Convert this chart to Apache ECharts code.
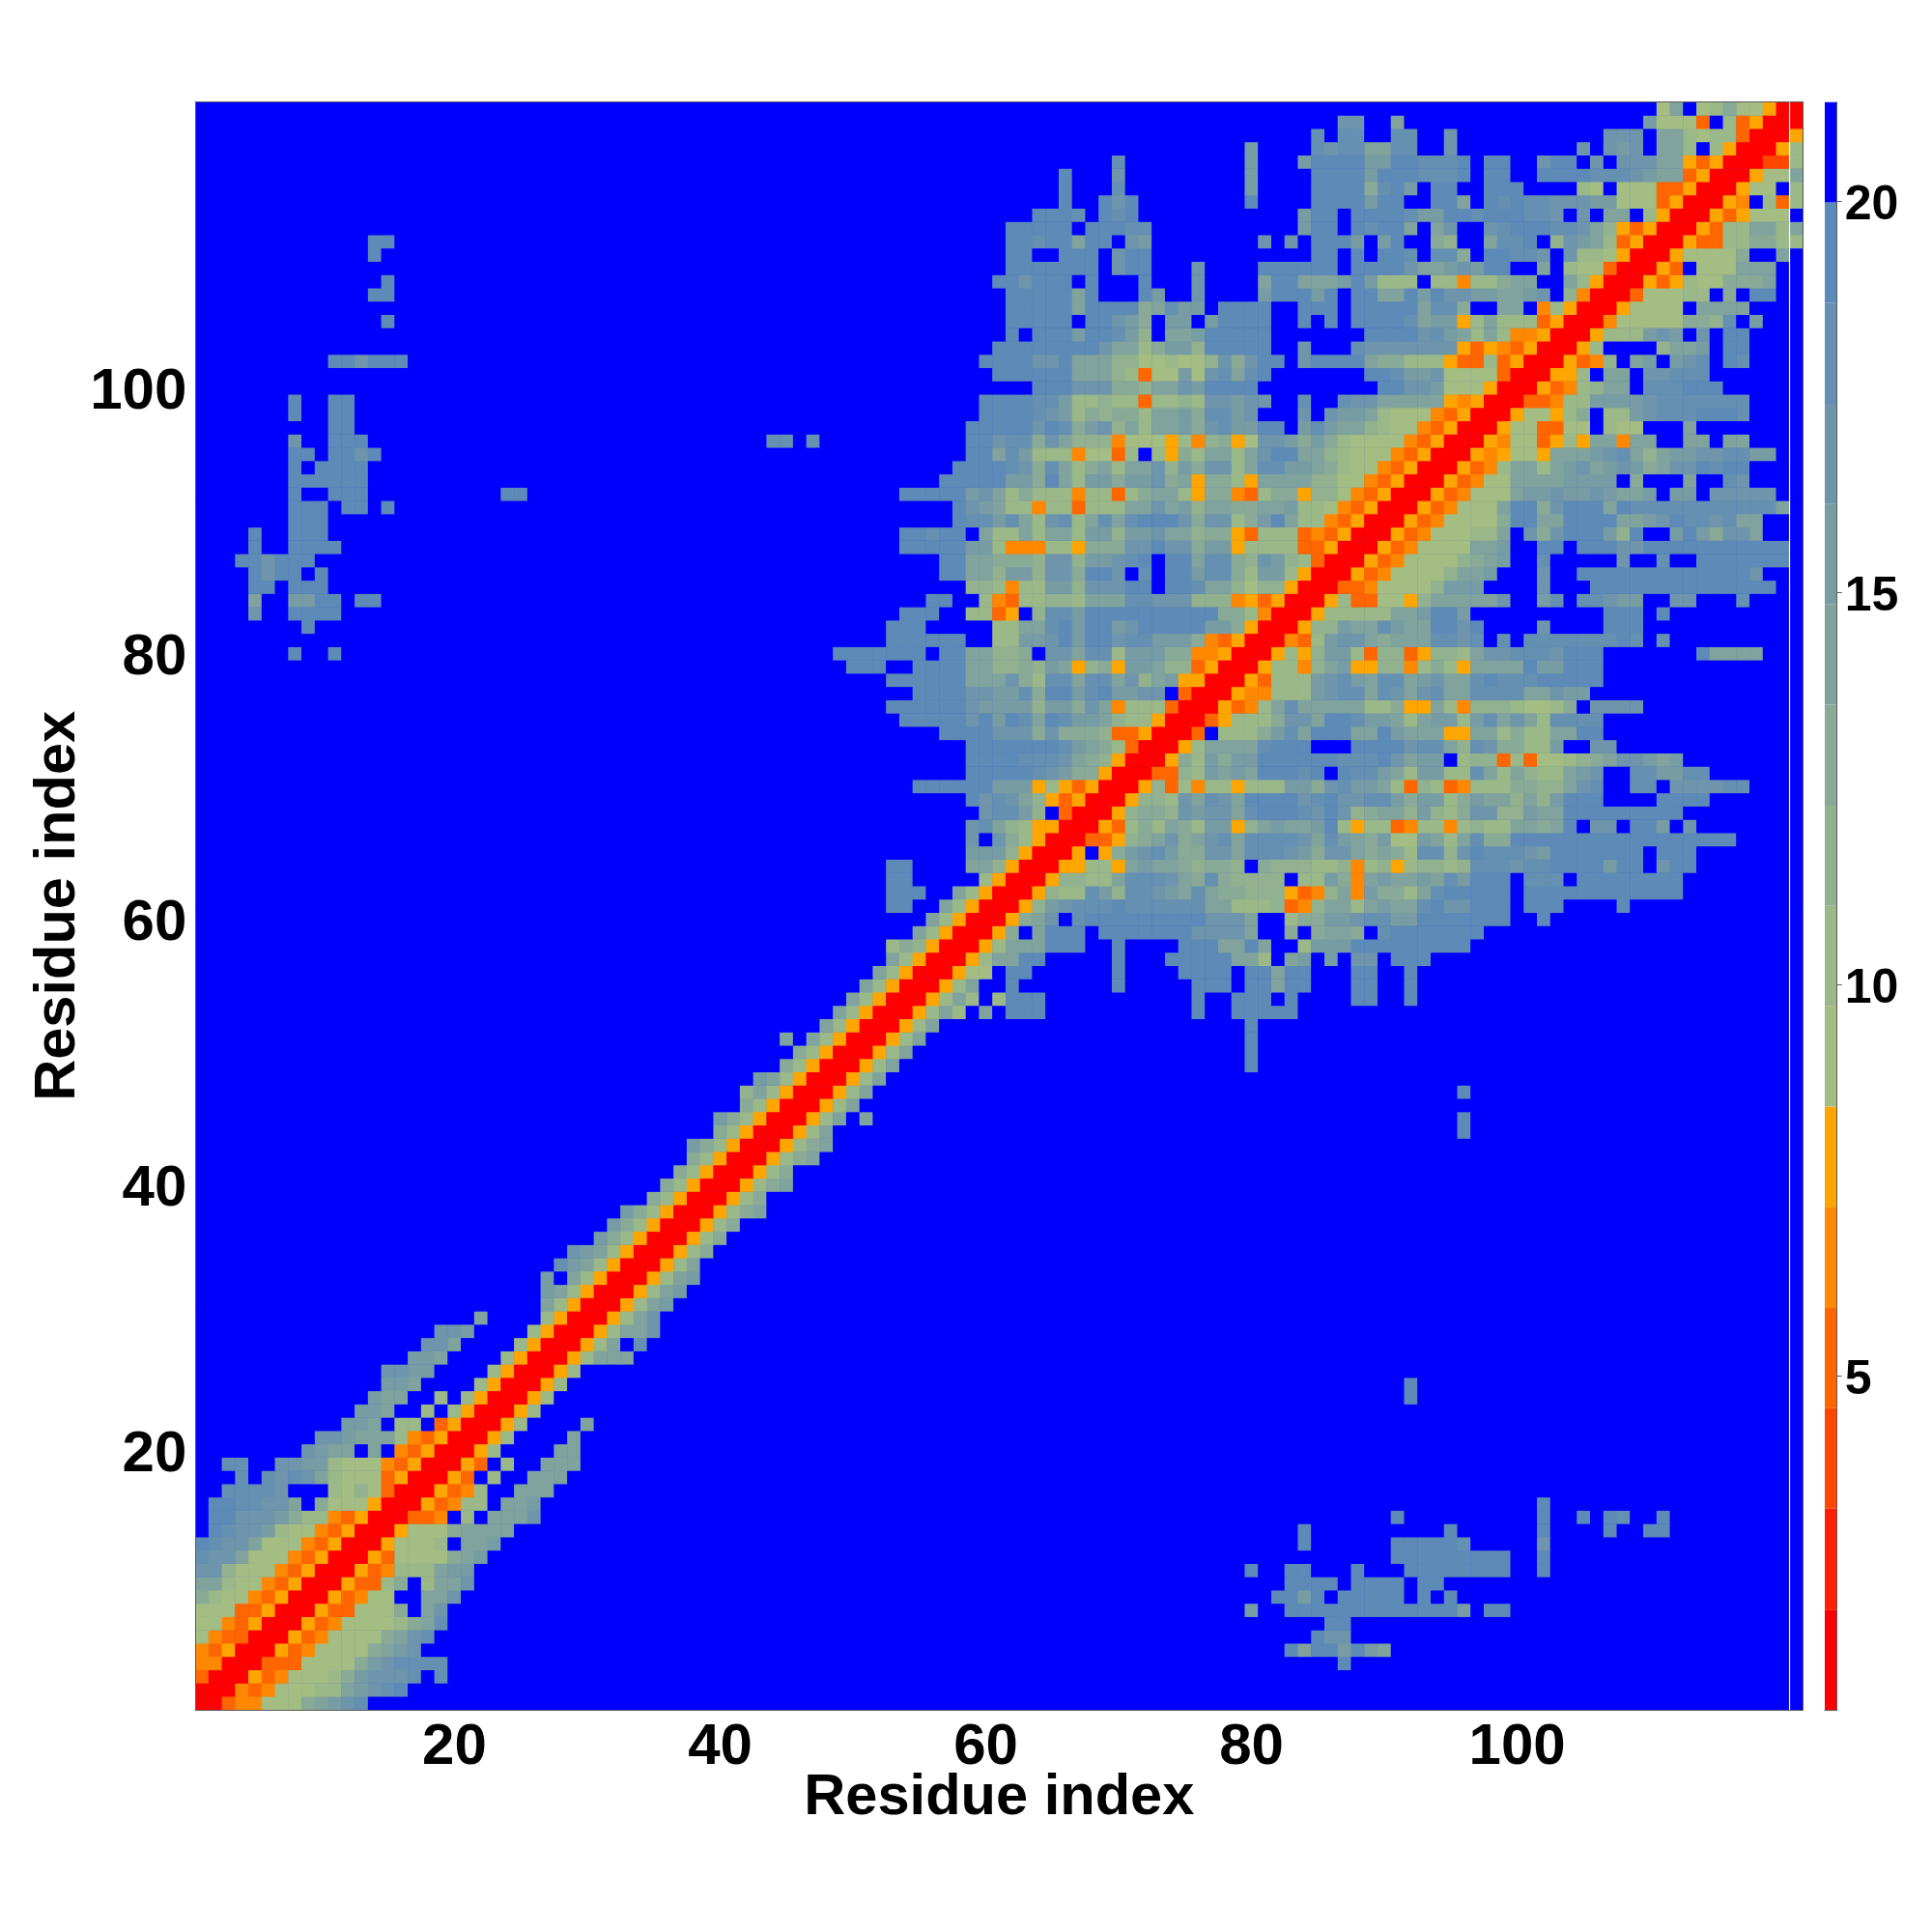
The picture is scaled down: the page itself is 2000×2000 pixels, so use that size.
<!DOCTYPE html>
<html><head><meta charset="utf-8">
<style>html,body{margin:0;padding:0;background:#fff}#c{width:2000px;height:2000px}</style>
<script src="https://cdn.jsdelivr.net/npm/echarts@6/dist/echarts.min.js"></script>
</head><body><div id="c"></div>
<script>
const axisTitle = 'Residue index';
const residueCount = 121;
const axisTickValues = [20, 40, 60, 80, 100, 120];
const axisLabelValues = [20, 40, 60, 80, 100];
const barLabelValues = [5, 10, 15, 20];
const levelEdges = [0.74, 2.02, 3.31, 4.59, 5.87, 7.15, 8.44, 9.72, 11.0, 12.28, 13.57, 14.85, 16.13, 17.41, 18.7, 19.98, 21.26];
const levelColors = ['#ff0000','#ff2000','#ff4500','#ff6600','#ff8800','#ffa500','#a3bd83','#9bb888','#92b18f','#89aa96','#80a39d','#779ca4','#6e95ab','#6590b1','#5d8ab6','#0000ff'];
/* Each line: row number, then start column:levels (hex level 1..f, "." or absent = top level, blue). */
const rowCells = [
"121 111:7b.78a77611",
"120 87:dd 91:b 110:c7774.846111",
"119 85:e 87:ee 91:ee 95:d 107:ddd 111:bb878841116",
"118 80:c 85:edeebbee 95:d 105:d 107:dcd 111:bb8.8611168",
"117 70:e 80:c 84:cffffcc 91:ffeeef.ff..dff.d.dddbb 113:646111 119:338",
"116 66:f 70:d 80:c 85:ffffcf 91:ffeeef.ff.. 102:ffffeeedcbb 113:46 115:1116 119:77b",
"115 66:f 70:e 80:c 85:ffffae 91:fc.ff..fff....87.777 111:446 114:1116 118:77.8",
"114 66:f 69:fdf 80:f 85:ffffcf 91:f..ffb. 98:fefeedddcc 108:777 111:46 113:1116 117:5.848",
"113 64:fffe 69:fef 84:cff.fff 91:feccffefffeed 104:.d.bb.8 111:6 112:1116 116:46777",
"112 62:fffff.fffee 84:cff.fef 91:fb.bd.. 98:defffeedb9 108:646 111:1116 115:488bb8b",
"111 14:ff 62:ffeffbff.dc 81:d 83:d 85:fffc.cf 92:..a9..b 99:eef.9dcb8 108:46 110:1116 114:4488aa88",
"110 14:f 62:ff..fff.dff 85:ff.f.ff 92:e.eea. 98:ffeed.d887 108:6 109:1116 113:7777a..b",
"109 62:fffffff.dff 76:d 81:ffffff.ffff 92:dbbcdcff..b.877 107:4 108:1116 112:4.777bbb",
"108 15:f 61:ffdfff.f 72:f 76:d 81:bffbbbcfc88 92:8.88 96:588abb..b8 106:6 107:1116 111:468 114:77aaab",
"107 14:ff 62:fffffbf 72:fc 76:d 81:cfffcf.ffbb 92:fcfddccbbcd.9 105:5 106:1114 110:77788.a.ff",
"106 62:fffffbffffabecc 78:ffff 84:fff.ffff 92:fbeea..bb. 102:586 105:1116 109:7777.bbbb",
"105 15:f 62:fffff.ffdca.cc.cffff 84:f.f.ffff 92:ebcc 96:68b888 102:46 104:1115 108:77777aa9e.c",
"104 62:f.fffcffec9.bbcfffff 89:fff 92:fdec 96:b8b8 100:556 103:1116 107:888cdc.d.ff",
"103 61:ffffffffdbb8acc9fffff 84:d 88:edd 91:ddddd 96:646546 102:1116 106:8 111:9bbc.ff",
"102 11:ffdfff 60:ffffddfbbb99778779dadff 84:dffffba 91:a888 95:6448 99:46 101:1116 105:459.bc.cde.fe",
"101 61:ffffffbbb98477c7debef 89:ffeccd 95:77774 100:1116 104:68.bb.ddeee",
"100 64:fffdddaa9bbdcffff 90:ffddc 95:7776 99:1116 103:4589bb.eeefff",
"99 8:f 11:ff 60:ffffeec8898848898ddcdd 84:e 87:eddb 91:bbbb6 96:56 98:111445 104:88ccccdeeeeeee",
"98 8:f 11:ff 60:ffffedc8a9aa8bbcaeecd 84:d.dccb87 92:77546 97:1116 101:7768a.88 109:cdeeefffe",
"97 11:ff 59:fffffdfeacd9b8bbcadeccff 84:cecbb98 91:77546 96:1116 100:774477.877 113:b",
"96 8:d 11:fff 44:ee 47:e 59:ffdeeadb9995777685 77:9a67ddcaca8777 91:7546 95:1116 99:5774686bb5bb..bb.bb",
"95 8:ff 11:ffdf 59:ffbec8885774 71:8.86a8bb8bdffbb98777 91:546 94:1116 98:56776 103:bbbcdeb9bccddeecc",
"94 8:f.ffff 58:f 59:fffedaeb8ab8bbd9cadd8beeccba877 90:546 93:1116 97:458bb8 103:bcdbcdcabddfeff",
"93 8:ffffff 57:ff 59:fffccafb8ccaccdab6aa86bbbb9977 89:546 92:1116 96:4577 100:bbbbcccc.a...b..ed",
"92 8:f..fff 24:ff 54:fffff 59:cdb8a88858848abb86aa5 80:48aa6997 88:546 91:1116 95:45777 100:bccdccdcbbc.cc.ddddd",
"91 8:fff.ff 15:f 58:f 59:dcb885884888bbdbc9bbaabbc887 87:546 90:1116 94:45777 99:bffadfffbfeeeeeeeeeeeb",
"90 8:fff 58:f 59:eeceb8de8bebefffdadd8acfb88 86:546 89:1116 93:457777a 100:ffbbffffbbcdfeedebb",
"89 5:f 8:fff 54:ffeff 60:b88b8bb8cc9ccdbb9aa64888 84:4546 88:1116 92:4577788b 101:dadfffc9f 112:cfcaddb",
"88 5:f 8:ffff 54:fffff 59:cc855588 67:6aaaddfddacc 79:68888446 87:1116 91:457777bbc 102:ff.fffddfffffffffff",
"87 4:ffdfff 57:ff 59:bbaaa9dd9ccdef.ffbeea9dc984 86:1116 90:457777 96:9abc 102:e 108:d 111:e 114:fffffff",
"86 5:fdff.f 57:ff 59:bb9cc9ddaffd.e.ffceea8cc86 85:1116 89:4577779bbc 102:d 105:fffffffffffffd",
"85 5:ff.fff 59:998588cc9dddff.ffebb97996 84:111 87:44577779ccc 102:d 106:ffffffffffffff",
"84 5:b 8:ccff 13:ff 56:ff 60:85488998bbbeeddd9995646 83:1116 87:8447769bbbbbd 102:ce.eedcc..dd...e",
"83 5:d 8:ffff 54:fff 59:8846.9eecffffffffffaa85 82:1116 86:88888bbcffc 107:fff.f",
"82 9:f 53:fff 61:88bbefcffcdfffffcca6 81:1116 85:99cbbecbbffdf 102:d 107:fff",
"81 53:ff 55:ffff 61:88ccdfcffdeeccca546 80:11154 85:8cddbabbbeede.e. 101:eeeeeeefe 111:e",
"80 8:f 11:f 49:fffffff 57:ff 59:bb99a.ddbee8cccaa556 79:1116 83:869cc8499 92:46998bddeeedfff 114:fbbbb",
"79 50:fff 55:ffff 59:bb99a9cb69a6ccb9946 78:1116 82:8859bc6699 92:58a86bbbbfccfff",
"78 53:ffffff 59:bbbda8eebeebd9bc66 77:1116 81:4888cdecbee 92:bcdbbefeeefffff",
"77 55:ffff 59:ddcceaffcefccdd.4 76:1116 80:55888cdeebed 92:bdebbeeeebbdcc",
"76 53:ffffff 59:dcccc9ccadb58884 75:1116 79:458bebbbbb88a 92:66b859998778a.dddd",
"75 54:fffff 59:dfcfebfeccb9886 74:11146 79:888addbffeccb 92:8bcc8cebdb8eeee",
"74 57:ff 59:ffdddadaaa9446 73:1114.888acebfffbbfc 92:bbb66bb8a88bbff",
"73 59:fffffffecba84 72:1116 76:8bbbbefff...ffff 92:deeb9edaa88c..dd",
"72 59:ffffeeedba96 71:1116 75:a8cacc 81:ffffffeeefd 92:bcc.899484 102:7789abddcbc",
"71 59:fffffedcaa6 70:11144 75:98cbcb 81:fffef.feecb 92:8cc88eb8b988bcd..eeccee",
"70 55:ffff 59:ffccc68646 69:1116 73:9485886888 83:ccadeccb8 92:49845 97:888aa99bde..ee.ddddee",
"69 59:fdedb9646 68:1116 72:998dbedb 80:ffffdefddeec 92:acc8acbb9b9c 104:fff....ffff",
"68 59:.deec9.4 67:1116 71:9aa9dcddbe 81:fffedfd9abb 92:9c98add99cbbb 104:fffffffff",
"67 59:deb9866 66:1116 70:48a8ba8cc6 80:9bcbbcf8688 91:45885 96:8988bbabf.dd.ffc.d",
"66 59:d.da86 65:111446 71:9abdabdebeeeedbecbac 91:77cb8beaa 100:fffffffffffffffff",
"65 59:ccc96 64:1116.6acdecaaddbeeedcaddbab 91:a8ee9dfeeedc 103:fffffff.fff",
"64 53:ff 59:bb96 63:11166886 71:bcbba9aa9.a999889589 91:689989eeedeeffffcff.dff",
"63 53:ff 60:86 62:1116 66:9988beeedbaea9999.88ca5bc 91:bbcbecfff.eee.ffffffff",
"62 53:fff 58:b86 61:1116 65:988ec9eedcbebaa9996459b5ca 91:a8befffff.ffffffffffff",
"61 53:ff 57:b86 60:1116 64:9cdeeefeeeeeebb8889459bb8bc 91:bbefddfff.fff....f",
"60 56:b86 59:1116 63:abd.efffffffffdddb..8aaccdee 91:ccfffffff..f",
"59 55:b86 58:1116 62:a.bfff.fffffffddddb..a.abba.e 91:fffffff",
"58 53:8a96 57:1116 61:8bbbfff..f....fffbbfb..8cccfff 91:ffffff",
"57 53:b86 56:1116 60:8bbff.....f...fffffbb8 83:bc.c.dd. 91:fff",
"56 52:b86 55:1116 59:77.ff 70:f 75:ffff 80:ffbff 88:ff 92:f",
"55 51:b86 54:1116 58:8b..f 70:f 76:fff 80:ffbff 88:ff 92:f",
"54 50:b86 53:1116 57:8b8.8fff 76:f 79:fff 83:f 88:ff 92:f",
"53 49:b86 52:1116 56:8b8.b.fff 76:f 79:ffff 83:f",
"52 48:b86 51:1116 55:8b 80:f",
"51 45:b 47:b86 50:1116 54:8b 80:f",
"50 46:a86 49:1116 53:8b 80:f",
"49 45:a86 48:1116 52:8b 80:f",
"48 43:cb86 47:1116 51:8b",
"47 42:9b86 46:1116 50:8b 96:f",
"46 42:a86 45:1116 49:8b",
"45 40:ca86 44:1116 48:8b 51:b 96:f",
"44 40:a86 43:1116 47:8b 96:f",
"43 38:ca86 42:1116 46:8ab",
"42 38:a86 41:1116 45:8ab",
"41 37:a86 40:1116 44:8a",
"40 36:a86 39:1116 43:8ab",
"39 35:a86 38:1116 42:8a",
"38 33:ca86 37:1116 41:8ab",
"37 32:ca86 36:1116 40:8a",
"36 31:ca86 35:1116 39:8a",
"35 29:dcb86 34:1116 38:8a",
"34 28:ecb86 33:1116 37:8b",
"33 27:c.b86 32:1116 36:8bc",
"32 27:cb86 31:1116 35:8bc",
"31 27:b86 30:1116 34:8bc",
"30 22:b 27:86 29:1116 33:8bd",
"29 19:ddc 26:86 28:1116 32:8bbd",
"28 18:ddb 25:86 27:1116 31:8b.e",
"27 17:ccb 24:86 26:1116 30:8bbb",
"26 15:ddcc 23:86 25:1116 29:8",
"25 15:ccb 22:86 24:1116 28:8 92:f",
"24 14:cbb 19:8.86 23:1116 27:8 92:f",
"23 13:ccb 18:8.86 22:1116 26:8",
"22 12:ccb 16:88.46 21:1116 25:8 30:b",
"21 10:ddcbbb8546 20:1116 24:8 29:b",
"20 9:dcbb.b.546 19:1116 23:8 28:bb",
"19 3:ee 7:ddcc8777546 18:1116 22:4.8 27:bbb",
"18 4:e 6:ededb8777 15:46 17:1116 21:4.8 26:bbb",
"17 3:eeeed 11:8797 15:4 16:1116 20:458 25:bbb",
"16 2:ffeeddb.a777 14:6 15:1116 19:4588 24:bbc 102:f",
"15 2:ffdddca88546 14:111445 21:8.bbbd 91:f 102:f 105:f 107:fe 111:f",
"14 2:feddc877546 13:1116 17:777abbbb 84:f 95:f 102:f 107:f 110:ff",
"13 1:feddb777546 12:1116 16:7778.bbc 84:f 91:fffffe 102:d",
"12 1:eddb777546 11:1116 15:47777abc 91:fffffffff 102:f",
"11 1:dd9777546 10:1116 14:45888bcc 80:f 83:ff 88:f 92:ffffffff 102:f",
"10 1:bb877546 9:1116 13:448a.8bbd 83:ffff 88:ffff 93:ff",
"9 1:a877546 8:1116 12:4577..bbd 82:ffcf 87:fffff 93:f 95:f",
"8 1:777446 7:1116 11:44777a.bd 80:c 83:fffffffffffffc 98:ff",
"7 1:77546 6:1116 10:4577778abe 86:ff",
"6 1:7544 5:1116 9:457777abde 85:fdd",
"5 1:546 4:1116 8:457777abcd 83:fbffcfcb",
"4 1:55 3:111 6:444 9:7777acdeeee 87:f",
"3 1:4111 5:645 8:7778acddde 19:e",
"2 1:111545 7:77788bcdef",
"1 1:11455 6:777abcde"
];

const residues = [];
for (let i = 1; i <= residueCount; i++) residues.push(String(i));
const grid = {};
rowCells.forEach(line => {
  const parts = line.split(' ');
  const r = +parts[0];
  grid[r] = {};
  parts.slice(1).forEach(seg => {
    const [s, cells] = seg.split(':');
    [...cells].forEach((ch, i) => { if (ch !== '.') grid[r][+s + i] = parseInt(ch, 16); else delete grid[r][+s + i]; });
  });
});
const heat = [];
for (let r = 1; r <= residueCount; r++) {
  for (let c = 1; c <= residueCount; c++) {
    const lv = (grid[r] && grid[r][c]) || 16;
    heat.push([c - 1, r - 1, (levelEdges[lv - 1] + levelEdges[lv]) / 2]);
  }
}
const font = 'Liberation Sans';
const pieces = levelColors.map((color, i) => ({ min: levelEdges[i], max: levelEdges[i + 1], color }));
const tickFn = (i, v) => axisTickValues.includes(+v);
const labelFn = (i, v) => axisLabelValues.includes(+v);
const lineStyle = { color: '#5a5a5a', width: 1 };
const xLabel = { fontFamily: font, fontWeight: 'bold', fontSize: 60, color: '#000', interval: labelFn, margin: 9 };
const yLabel = { fontFamily: font, fontWeight: 'bold', fontSize: 60, color: '#000', interval: labelFn, margin: 9, verticalAlign: 'top', padding: [-25, 0, 0, 0] };
const titleStyle = { fontFamily: font, fontWeight: 'bold', fontSize: 59.6, color: '#000' };
const barSeries = levelColors.map((color, i) => ({
  type: 'bar', xAxisIndex: 2, yAxisIndex: 2, stack: 'scale', barWidth: '100%',
  itemStyle: { color }, silent: true,
  data: [i === 0 ? levelEdges[1] : +(levelEdges[i + 1] - levelEdges[i]).toFixed(3)]
}));
const chart = echarts.init(document.getElementById('c'), null, { renderer: 'canvas', width: 2000, height: 2000 });
chart.setOption({
  animation: false,
  backgroundColor: '#ffffff',
  grid: [
    { left: 202.3, top: 105.7, width: 1664, height: 1664.3, outerBoundsMode: 'none', show: true, backgroundColor: '#0000ff', borderWidth: 0 },
    { left: 1889, top: 105.7, width: 12.7, height: 1664.3, outerBoundsMode: 'none' }
  ],
  xAxis: [
    { type: 'category', gridIndex: 0, data: residues, position: 'bottom', z: 5,
      name: axisTitle, nameLocation: 'middle', nameGap: 62, nameMoveOverlap: false, nameTextStyle: titleStyle,
      axisLine: { lineStyle }, axisTick: { length: 5, interval: tickFn, alignWithLabel: true, lineStyle },
      axisLabel: xLabel, splitLine: { show: false } },
    { type: 'category', gridIndex: 0, data: residues, position: 'top', z: 5,
      axisLine: { lineStyle }, axisTick: { length: 5, interval: tickFn, alignWithLabel: true, lineStyle },
      axisLabel: { show: false }, splitLine: { show: false } },
    { type: 'category', gridIndex: 1, data: ['scale'], z: 5,
      axisLine: { show: true, lineStyle }, axisTick: { show: false }, axisLabel: { show: false } }
  ],
  yAxis: [
    { type: 'category', gridIndex: 0, data: residues, position: 'left', z: 5,
      name: axisTitle, nameLocation: 'middle', nameGap: 112, nameMoveOverlap: false, nameTextStyle: titleStyle,
      axisLine: { lineStyle }, axisTick: { length: 5, interval: tickFn, alignWithLabel: true, lineStyle },
      axisLabel: yLabel, splitLine: { show: false } },
    { type: 'category', gridIndex: 0, data: residues, position: 'right', z: 5,
      axisLine: { lineStyle }, axisTick: { length: 5, interval: tickFn, alignWithLabel: true, lineStyle },
      axisLabel: { show: false }, splitLine: { show: false } },
    { type: 'value', gridIndex: 1, position: 'right', min: levelEdges[0], max: levelEdges[levelEdges.length - 1], z: 5,
      axisLine: { show: true, lineStyle },
      axisTick: { show: true, length: 5, customValues: barLabelValues, lineStyle },
      axisLabel: { show: true, customValues: barLabelValues, fontFamily: font, fontWeight: 'bold', fontSize: 50, color: '#000', margin: 8, verticalAlign: 'top', padding: [-20, 0, 0, 0] },
      splitLine: { show: false } }
  ],
  visualMap: { show: false, type: 'piecewise', seriesIndex: 0, dimension: 2, pieces },
  series: [
    { type: 'heatmap', xAxisIndex: 0, yAxisIndex: 0, data: heat, progressive: 0, silent: true, itemStyle: { borderWidth: 0 } }
  ].concat(barSeries)
});
const seamX = (chart.convertToPixel({ xAxisIndex: 0 }, '120') + chart.convertToPixel({ xAxisIndex: 0 }, '121')) / 2;
const bottomY = chart.convertToPixel({ yAxisIndex: 0 }, '1');
const topY = chart.convertToPixel({ yAxisIndex: 0 }, '121');
const halfBand = (bottomY - topY) / 120 / 2;
chart.setOption({ graphic: [{ type: 'line', z: 10, silent: true,
  shape: { x1: seamX, y1: topY - halfBand, x2: seamX, y2: bottomY + halfBand },
  style: { stroke: '#ffffff', lineWidth: 1.2 } }] });
</script></body></html>
